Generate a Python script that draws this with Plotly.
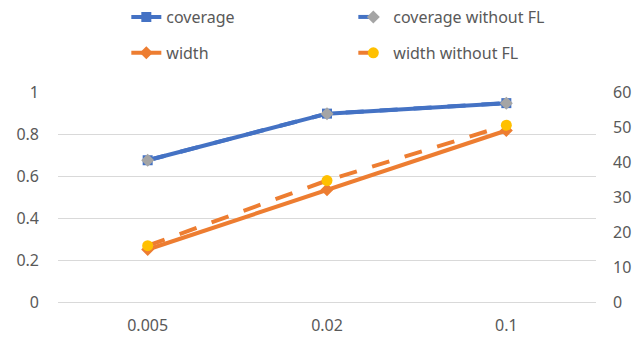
import plotly.graph_objects as go

# Learning-rate categories on the x axis
rates = ["0.005", "0.02", "0.1"]

# Coverage (left axis, 0-1)
coverage = [0.675, 0.897, 0.947]
coverage_without_fl = [0.675, 0.897, 0.947]

# Interval width (right axis, 0-60)
width = [15.0, 32.1, 49.0]
width_without_fl = [16.1, 34.7, 50.5]

left_ticks = [0, 0.2, 0.4, 0.6, 0.8, 1]
right_ticks = [0, 10, 20, 30, 40, 50, 60]

BLUE = "#4472C4"
ORANGE = "#ED7D31"
GRAY = "#A5A5A5"
YELLOW = "#FFC000"
TEXT = "#595959"
GRID = "#D9D9D9"
FONT = "Noto Sans"
DASH = "18px,16px"

fig = go.Figure()

fig.add_trace(go.Scatter(
    x=rates, y=coverage, name="coverage", mode="lines+markers",
    line=dict(color=BLUE, width=4),
    marker=dict(symbol="square", size=10, color=BLUE),
    legend="legend",
))
fig.add_trace(go.Scatter(
    x=rates, y=coverage_without_fl, name="coverage without FL", mode="lines+markers",
    line=dict(color=BLUE, width=4, dash=DASH),
    marker=dict(symbol="diamond", size=10, color=GRAY),
    legend="legend",
))
fig.add_trace(go.Scatter(
    x=rates, y=width, name="width", mode="lines+markers", yaxis="y2",
    line=dict(color=ORANGE, width=4),
    marker=dict(symbol="diamond", size=10, color=ORANGE),
    legend="legend2",
))
fig.add_trace(go.Scatter(
    x=rates, y=width_without_fl, name="width without FL", mode="lines+markers", yaxis="y2",
    line=dict(color=ORANGE, width=4, dash=DASH),
    marker=dict(symbol="circle", size=11, color=YELLOW),
    legend="legend2",
))

legend_common = dict(
    orientation="h", xanchor="left", yanchor="middle",
    entrywidth=182, entrywidthmode="pixels",
    font=dict(family=FONT, size=16, color=TEXT),
    bgcolor="rgba(0,0,0,0)", itemwidth=30,
)

fig.update_layout(
    width=634, height=341,
    margin=dict(l=58, r=38, t=92, b=39, autoexpand=False),
    paper_bgcolor="white", plot_bgcolor="white",
    font=dict(family=FONT, size=16, color=TEXT),
    showlegend=True,
    legend=dict(x=0.127, y=1.357, **legend_common),
    legend2=dict(x=0.127, y=1.186, **legend_common),
    xaxis=dict(
        type="category", range=[-0.5, 2.5], showgrid=False, zeroline=False,
        showline=False, ticks="", ticklabelstandoff=12,
        tickfont=dict(size=16, color=TEXT),
    ),
    yaxis=dict(
        range=[0, 1], tickvals=left_ticks, ticktext=[f"{v:g}" for v in left_ticks],
        showgrid=True, gridcolor=GRID, gridwidth=1,
        zeroline=True, zerolinecolor=GRID, zerolinewidth=1,
        showline=False, ticks="", ticklabelstandoff=18,
        tickfont=dict(size=16, color=TEXT),
    ),
    yaxis2=dict(
        range=[0, 60], tickvals=right_ticks, overlaying="y", side="right",
        showgrid=False, zeroline=False, showline=False, ticks="",
        ticklabelstandoff=16, tickfont=dict(size=16, color=TEXT),
    ),
)

fig.write_html("out.html")
